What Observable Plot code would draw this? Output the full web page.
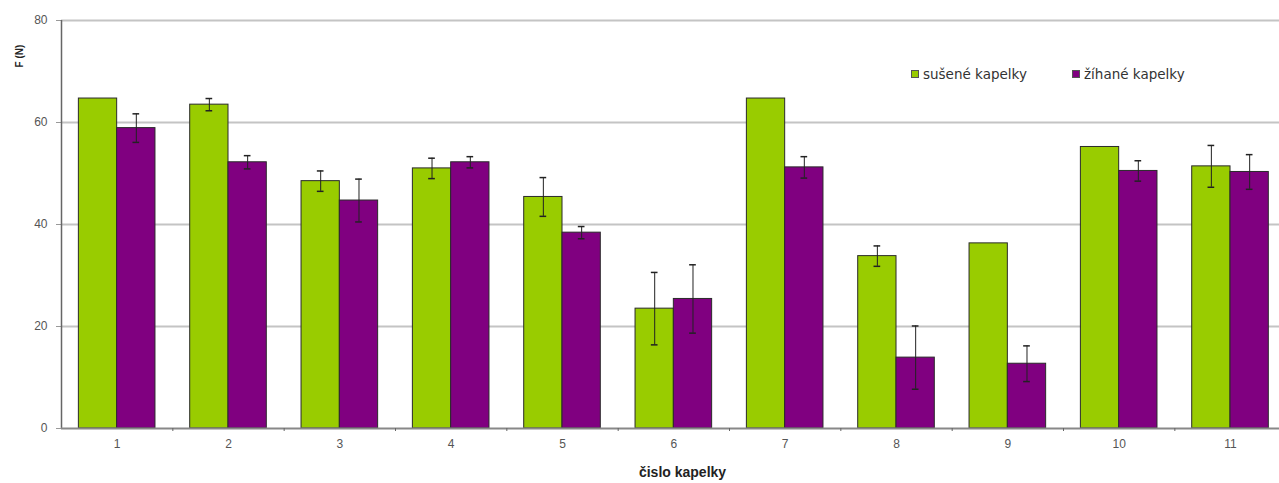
<!DOCTYPE html>
<html>
<head>
<meta charset="utf-8">
<script src="https://cdn.jsdelivr.net/npm/d3@7"></script>
<script src="https://cdn.jsdelivr.net/npm/@observablehq/plot@0.6"></script>
<style>
  body { margin: 0; background: #fff; }
  #wrap { position: relative; width: 1279px; height: 483px; overflow: hidden; }
  .lg { position: absolute; top: 65px; font-family: "DejaVu Sans", Verdana, sans-serif; font-size: 13.5px; color: #333; white-space: nowrap; line-height: 18px; }
  .lg span.sw { display: inline-block; width: 6px; height: 6px; border: 1px solid #555; margin-right: 4px; vertical-align: 1px; }
</style>
</head>
<body>
<div id="wrap"></div>
<script>
const categories = [1, 2, 3, 4, 5, 6, 7, 8, 9, 10, 11];
const seriesNames = ["sušené kapelky", "žíhané kapelky"];
const seriesColors = ["#99cc00", "#800080"];
const dried = [64.7, 63.5, 48.5, 51.0, 45.4, 23.5, 64.7, 33.8, 36.3, 55.2, 51.4];
const driedErr = [null, 1.2, 2.0, 2.0, 3.8, 7.1, null, 2.0, null, null, 4.1];
const annealed = [58.9, 52.2, 44.7, 52.2, 38.4, 25.4, 51.2, 13.9, 12.7, 50.5, 50.3];
const annealedErr = [2.8, 1.3, 4.2, 1.1, 1.2, 6.7, 2.1, 6.2, 3.5, 2.0, 3.4];
const yTicks = [0, 20, 40, 60, 80];

const W = 0.344; // bar width in category units
const rows = [];
categories.forEach((c, i) => {
  rows.push({cat: c, series: seriesNames[0], value: dried[i], err: driedErr[i], side: -1});
  rows.push({cat: c, series: seriesNames[1], value: annealed[i], err: annealedErr[i], side: 1});
});
rows.forEach(r => {
  r.x1 = r.side < 0 ? r.cat - W : r.cat;
  r.x2 = r.side < 0 ? r.cat : r.cat + W;
  r.xc = r.cat + r.side * W / 2;
});
const errRows = rows.filter(r => r.err != null);
const boundaries = categories.slice(0, -1).map(c => c + 0.5);

const chart = Plot.plot({
  width: 1279,
  height: 483,
  marginLeft: 61,
  marginRight: 0,
  marginTop: 20,
  marginBottom: 55,
  style: {fontFamily: "Liberation Sans, Arial, sans-serif", fontSize: "12px", color: "#555"},
  x: {domain: [0.5, 11.44], axis: null},
  y: {domain: [0, 80], axis: null},
  color: {domain: seriesNames, range: seriesColors},
  marks: [
    Plot.ruleY(yTicks.filter(d => d > 0), {stroke: "#c4c4c4", strokeWidth: 2}),
    Plot.axisY({ticks: yTicks, tickSize: 5, tickPadding: 9, stroke: "#999", label: null, fontSize: 12, fill: "#555"}),
    Plot.rectY(rows, {x1: "x1", x2: "x2", y: "value", fill: "series", stroke: "#2a2a2a", strokeWidth: 1}),
    Plot.ruleX(errRows, {x: "xc", y1: d => d.value - d.err, y2: d => d.value + d.err, stroke: "#222", strokeWidth: 1}),
    Plot.ruleY(errRows, {y: d => d.value + d.err, x1: d => d.xc - 0.03, x2: d => d.xc + 0.03, stroke: "#222", strokeWidth: 1.5}),
    Plot.ruleY(errRows, {y: d => d.value - d.err, x1: d => d.xc - 0.03, x2: d => d.xc + 0.03, stroke: "#222", strokeWidth: 1.5}),
    Plot.ruleX([0.5], {stroke: "#666", strokeWidth: 1.5}),
    Plot.ruleY([0], {stroke: "#888", strokeWidth: 2}),
    Plot.axisX({ticks: boundaries, tickSize: 3, tickFormat: () => "", stroke: "#666", label: null}),
    Plot.axisX({ticks: categories, tickSize: 0, tickPadding: 11, label: null, fontSize: 12, fill: "#555"}),
    Plot.text(["F (N)"], {frameAnchor: "top-left", rotate: -90, dx: -46, dy: 47, fontWeight: "bold", fontSize: 10, fill: "#222"}),
    Plot.text(["čislo kapelky"], {frameAnchor: "bottom", dx: 12, dy: 48, fontWeight: "bold", fontSize: 14, fill: "#222"})
  ]
});
const wrap = document.getElementById("wrap");
wrap.appendChild(chart);

const legendLeft = [911, 1072];
seriesNames.forEach((name, i) => {
  const item = document.createElement("div");
  item.className = "lg";
  item.style.left = legendLeft[i] + "px";
  const sw = document.createElement("span");
  sw.className = "sw";
  sw.style.background = seriesColors[i];
  item.appendChild(sw);
  item.appendChild(document.createTextNode(name));
  wrap.appendChild(item);
});
</script>
</body>
</html>
